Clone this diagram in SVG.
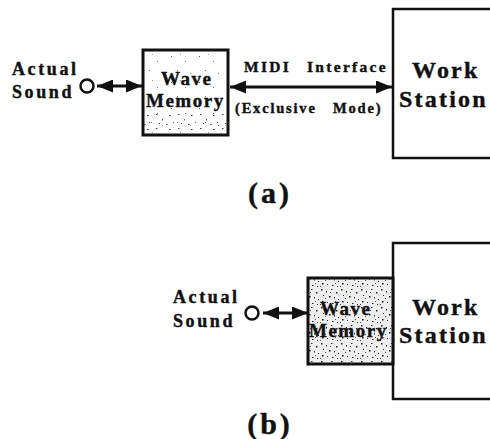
<svg xmlns="http://www.w3.org/2000/svg" width="490" height="439" viewBox="0 0 490 439">
<style>
  .box { fill: none; stroke: #111; stroke-width: 3; }
  .ws { fill: #fff; stroke: #111; stroke-width: 2.5; }
  .t { font-family: "Liberation Serif", "Times New Roman", serif; font-weight: bold; fill: #111; stroke: #111; stroke-width: 0.4; }
  .lbl { font-size: 18px; letter-spacing: 2.6px; }
  .wm { font-size: 19px; letter-spacing: 1.5px; }
  .wsT { font-size: 24px; letter-spacing: 2.2px; }
  .midi { font-size: 15.5px; letter-spacing: 2.3px; }
  .mode { font-size: 14.5px; letter-spacing: 1.8px; }
  .cap { font-size: 30px; letter-spacing: 3px; }
  .line { stroke: #111; stroke-width: 3; fill: none; }
  .port { fill: #fff; stroke: #111; stroke-width: 2.5; }
</style>
<defs>
  <marker id="ah" markerUnits="userSpaceOnUse" viewBox="0 0 16 13" refX="16" refY="6.5" markerWidth="16" markerHeight="13" orient="auto-start-reverse">
    <path d="M0,0 L16,6.5 L0,13 z" fill="#111"/>
  </marker>
  <pattern id="sparse" patternUnits="userSpaceOnUse" width="28" height="26">
    <rect x="3" y="4" width="1" height="1" fill="#555"/>
    <rect x="17" y="9" width="1" height="1" fill="#777"/>
    <rect x="9" y="18" width="1" height="1" fill="#666"/>
    <rect x="22" y="21" width="1" height="1" fill="#888"/>
    <rect x="12" y="2" width="1" height="1" fill="#999"/>
  </pattern>
  <pattern id="sparse2" patternUnits="userSpaceOnUse" width="22" height="14">
    <rect x="2" y="2" width="1.5" height="1" fill="#444"/>
    <rect x="8" y="7" width="1" height="1.5" fill="#555"/>
    <rect x="15" y="3" width="1.5" height="1" fill="#333"/>
    <rect x="19" y="10" width="1" height="1" fill="#666"/>
    <rect x="5" y="11" width="1" height="1" fill="#444"/>
    <rect x="12" y="12" width="1.5" height="1" fill="#555"/>
  </pattern>
  <pattern id="dense" patternUnits="userSpaceOnUse" width="20" height="18">
    <rect width="20" height="18" fill="#eeeeee"/>
    <rect x="1" y="1" width="1.5" height="1.5" fill="#222"/>
    <rect x="6" y="3" width="1" height="1.5" fill="#111"/>
    <rect x="11" y="1" width="1.5" height="1" fill="#333"/>
    <rect x="16" y="4" width="1.5" height="1.5" fill="#222"/>
    <rect x="3" y="7" width="1" height="1" fill="#333"/>
    <rect x="9" y="8" width="1.5" height="1.5" fill="#111"/>
    <rect x="14" y="9" width="1" height="1.5" fill="#333"/>
    <rect x="18" y="11" width="1" height="1" fill="#222"/>
    <rect x="2" y="13" width="1.5" height="1.5" fill="#111"/>
    <rect x="7" y="14" width="1" height="1" fill="#333"/>
    <rect x="12" y="15" width="1.5" height="1" fill="#222"/>
    <rect x="17" y="16" width="1" height="1" fill="#333"/>
    <rect x="5" y="10" width="1" height="1" fill="#555"/>
    <rect x="15" y="13" width="1" height="1" fill="#555"/>
    <rect x="10" y="4" width="1" height="1" fill="#555"/>
    <rect x="0" y="16" width="1" height="1" fill="#444"/>
  </pattern>
</defs>

<!-- (a) -->
<g id="a-actual-sound">
  <text class="t lbl" x="12" y="75">Actual</text>
  <text class="t lbl" x="12" y="98">Sound</text>
  <circle class="port" cx="87" cy="86" r="6.5"/>
</g>
<g id="a-wave-memory">
  <rect x="143" y="50" width="85" height="85" fill="url(#sparse)"/>
  <rect x="144" y="112" width="83" height="20" fill="url(#sparse2)"/>
  <rect class="box" x="143" y="50" width="85" height="85"/>
  <text class="t wm" x="161" y="85">Wave</text>
  <text class="t wm" x="146" y="107" letter-spacing="1">Memory</text>
</g>
<g id="a-work-station">
  <rect class="ws" x="393" y="9" width="110" height="149"/>
  <text class="t wsT" x="412" y="78">Work</text>
  <text class="t wsT" x="399" y="107">Station</text>
</g>
<g id="a-connectors">
  <line class="line" x1="97" y1="86" x2="142" y2="86" marker-start="url(#ah)" marker-end="url(#ah)"/>
  <line class="line" x1="230" y1="87" x2="392" y2="87" marker-start="url(#ah)" marker-end="url(#ah)"/>
  <text class="t midi" x="244" y="72">MIDI</text>
  <text class="t midi" x="307" y="72">Interface</text>
  <text class="t mode" x="235" y="113">(Exclusive</text>
  <text class="t mode" x="333" y="113">Mode)</text>
</g>
<text class="t cap" x="270" y="203" text-anchor="middle">(a)</text>

<!-- (b) -->
<g id="b-actual-sound">
  <text class="t lbl" x="173" y="303">Actual</text>
  <text class="t lbl" x="173" y="327">Sound</text>
  <circle class="port" cx="252" cy="313" r="6.5"/>
</g>
<g id="b-work-station">
  <rect class="ws" x="393" y="243" width="110" height="156"/>
  <text class="t wsT" x="412" y="315">Work</text>
  <text class="t wsT" x="399" y="343">Station</text>
</g>
<g id="b-wave-memory">
  <rect x="308" y="278" width="85" height="86" fill="url(#dense)"/>
  <rect class="box" x="308" y="278" width="85" height="86"/>
  <text class="t wm" x="320" y="315">Wave</text>
  <text class="t wm" x="309" y="337" letter-spacing="0.6">Memory</text>
</g>
<g id="b-connectors">
  <line class="line" x1="263" y1="313" x2="308" y2="313" marker-start="url(#ah)" marker-end="url(#ah)"/>
</g>
<text class="t cap" x="270" y="434" text-anchor="middle">(b)</text>
</svg>
